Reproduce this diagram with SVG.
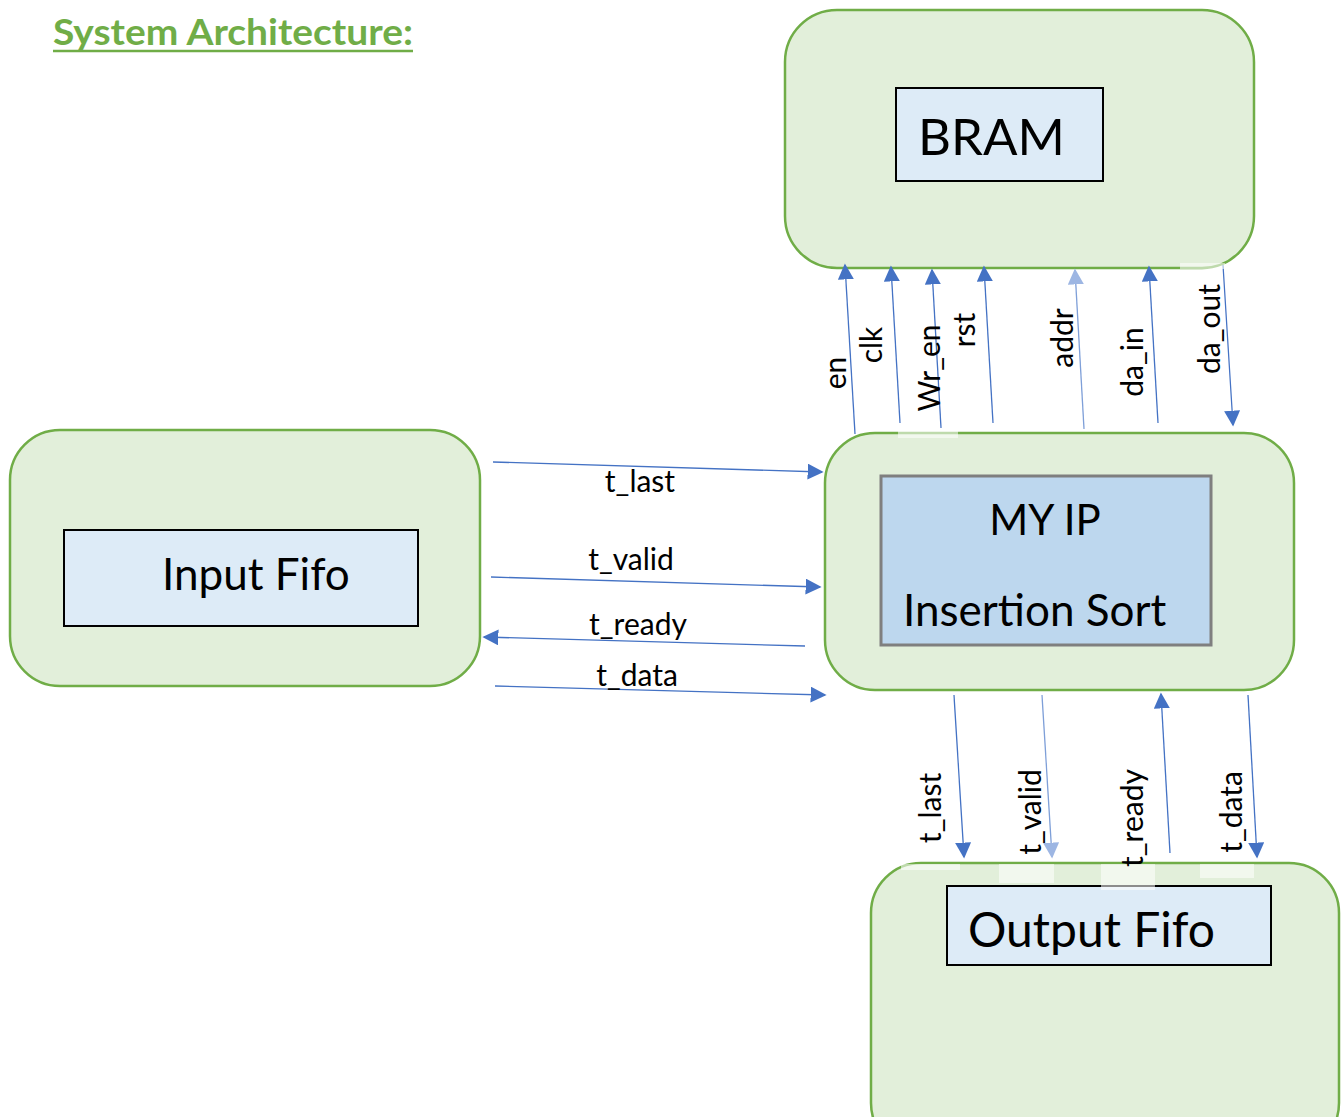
<svg xmlns="http://www.w3.org/2000/svg" width="1343" height="1117" viewBox="0 0 1343 1117">
  <defs>
    <marker id="ah" viewBox="0 0 10 10" refX="9" refY="5" markerWidth="16" markerHeight="16" markerUnits="userSpaceOnUse" orient="auto">
      <path d="M0,0 L10,5 L0,10 Z" fill="#4472C4"/>
    </marker>
    <marker id="ahl" viewBox="0 0 10 10" refX="9" refY="5" markerWidth="16" markerHeight="16" markerUnits="userSpaceOnUse" orient="auto">
      <path d="M0,0 L10,5 L0,10 Z" fill="#9DB6E3"/>
    </marker>
  </defs>
  <style>
    .outer { fill: #E2EFDA; stroke: #70AD47; stroke-width: 2.5; }
    .inner { fill: #DDEBF7; stroke: #000000; stroke-width: 2; }
    .ip { fill: #BDD7EE; stroke: #7F7F7F; stroke-width: 3; }
    .big { font-family: Lato, "Open Sans", sans-serif; fill: #000; }
    .sig { font-family: Lato, "Open Sans", sans-serif; font-size: 30px; fill: #000; }
    .wire { stroke: #4472C4; stroke-width: 1.3; fill: none; marker-end: url(#ah); }
    .wire-l { stroke: #7E9FD8; stroke-width: 1.3; fill: none; marker-end: url(#ahl); }
    .patch { fill: #FFFFFF; opacity: 0.55; }
  </style>
  <rect width="1343" height="1117" fill="#FFFFFF"/>

  <!-- heading -->
  <g id="title">
    <text x="53" y="45" font-family="Lato, 'Open Sans', sans-serif" font-size="36" font-weight="bold" fill="#70AD47" textLength="360" lengthAdjust="spacingAndGlyphs">System Architecture:</text>
    <line x1="53" y1="51" x2="413" y2="51" stroke="#70AD47" stroke-width="2.5"/>
  </g>

  <!-- BRAM block -->
  <g id="bram">
    <rect class="outer" x="785" y="10" width="469" height="258" rx="52"/>
    <rect class="inner" x="896" y="88" width="207" height="93"/>
    <text class="big" x="918" y="155" font-size="51">BRAM</text>
  </g>

  <!-- input FIFO -->
  <g id="input-fifo">
    <rect class="outer" x="10" y="430" width="470" height="256" rx="50"/>
    <rect class="inner" x="64" y="530" width="354" height="96"/>
    <text class="big" x="162" y="590" font-size="44">Input Fifo</text>
  </g>

  <!-- sorter core -->
  <g id="my-ip">
    <rect class="outer" x="825" y="433" width="469" height="257" rx="50"/>
    <rect class="ip" x="881" y="476" width="330" height="169"/>
    <text class="big" x="1045" y="535" font-size="42" text-anchor="middle">MY IP</text>
    <text class="big" x="903" y="626" font-size="44">Insertion Sort</text>
  </g>

  <!-- output FIFO -->
  <g id="output-fifo">
    <rect class="outer" x="871" y="863" width="468" height="290" rx="50"/>
    <rect class="inner" x="947" y="886" width="324" height="79"/>
    <text class="big" x="968" y="947" font-size="48">Output Fifo</text>
  </g>

  <!-- signal wires -->
  <g id="connectors">
    <!-- BRAM interface -->
    <line class="wire" x1="855" y1="434" x2="845" y2="265"/>
    <line class="wire" x1="900" y1="423" x2="891" y2="267"/>
    <line class="wire" x1="941" y1="428" x2="932" y2="270"/>
    <line class="wire" x1="993" y1="423" x2="984" y2="267"/>
    <line class="wire-l" x1="1084" y1="429" x2="1075" y2="270"/>
    <line class="wire" x1="1158" y1="423" x2="1149" y2="267"/>
    <line class="wire" x1="1223" y1="265" x2="1233" y2="425"/>

    <!-- input stream -->
    <line class="wire" x1="493" y1="462" x2="822" y2="472"/>
    <line class="wire" x1="491" y1="577" x2="820" y2="587"/>
    <line class="wire" x1="805" y1="646" x2="484" y2="637"/>
    <line class="wire" x1="495" y1="686" x2="825" y2="695"/>

    <!-- output stream -->
    <line class="wire" x1="954" y1="695" x2="964" y2="857"/>
    <line class="wire-l" x1="1042" y1="695" x2="1052" y2="857"/>
    <line class="wire" x1="1170" y1="853" x2="1161" y2="694"/>
    <line class="wire" x1="1248" y1="695" x2="1257" y2="857"/>
  </g>

  <!-- label backgrounds -->
  <g id="label-patches">
    <rect class="patch" x="898" y="430" width="60" height="8"/>
    <rect class="patch" x="1180" y="263" width="45" height="6"/>
    <rect class="patch" x="901" y="864" width="59" height="6"/>
    <rect class="patch" x="999" y="864" width="55" height="19"/>
    <rect class="patch" x="1101" y="864" width="54" height="26"/>
    <rect class="patch" x="1200" y="864" width="54" height="14"/>
  </g>

  <!-- signal names -->
  <g id="labels">
    <text class="sig" x="640" y="492" text-anchor="middle">t_last</text>
    <text class="sig" x="631" y="570" text-anchor="middle">t_valid</text>
    <text class="sig" x="638" y="635" text-anchor="middle">t_ready</text>
    <text class="sig" x="637" y="686" text-anchor="middle">t_data</text>

    <text class="sig" transform="translate(846,373) rotate(-90)" text-anchor="middle">en</text>
    <text class="sig" transform="translate(882,345) rotate(-90)" text-anchor="middle">clk</text>
    <text class="sig" transform="translate(940,368) rotate(-90)" text-anchor="middle">Wr_en</text>
    <text class="sig" transform="translate(975,330) rotate(-90)" text-anchor="middle">rst</text>
    <text class="sig" transform="translate(1073,338) rotate(-90)" text-anchor="middle">addr</text>
    <text class="sig" transform="translate(1143,362) rotate(-90)" text-anchor="middle">da_in</text>
    <text class="sig" transform="translate(1220,329) rotate(-90)" text-anchor="middle">da_out</text>

    <text class="sig" transform="translate(941,808) rotate(-90)" text-anchor="middle">t_last</text>
    <text class="sig" transform="translate(1041,812) rotate(-90)" text-anchor="middle">t_valid</text>
    <text class="sig" transform="translate(1143,818) rotate(-90)" text-anchor="middle">t_ready</text>
    <text class="sig" transform="translate(1242,812) rotate(-90)" text-anchor="middle">t_data</text>
  </g>
</svg>
